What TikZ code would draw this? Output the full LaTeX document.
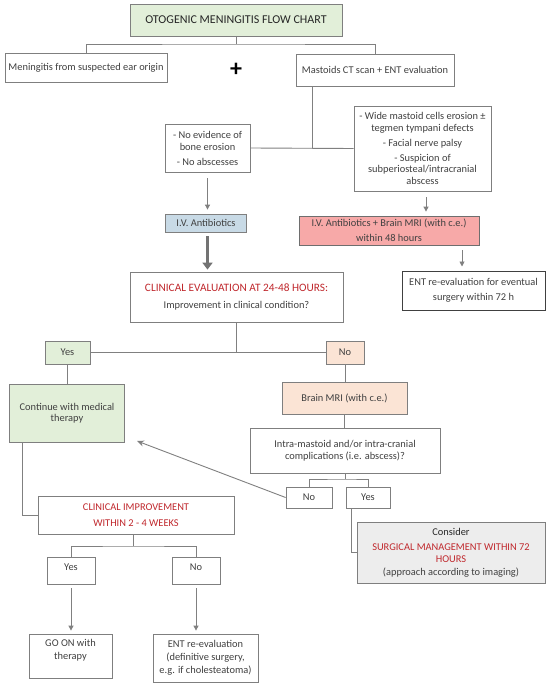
\documentclass[tikz,border=0pt]{standalone}
\usepackage{fontspec}
\setmainfont{Carlito}
\usetikzlibrary{arrows.meta}
\definecolor{txt}{HTML}{404040}
\definecolor{redt}{HTML}{C0282D}
\definecolor{bordergray}{HTML}{7F7F7F}
\definecolor{linegray}{HTML}{808080}
\definecolor{darkborder}{HTML}{404040}
\definecolor{pinkborder}{HTML}{6E6E6E}
\definecolor{lgreen}{HTML}{E2EFD9}
\definecolor{peach}{HTML}{FBE4D5}
\definecolor{ivblue}{HTML}{C8DAE6}
\definecolor{pinkfill}{HTML}{F7A9A8}
\definecolor{cgray}{HTML}{EDEDED}
\newcommand\bodyfs[1]{\fontsize{10.4}{#1}\selectfont}
\newcommand\redtx{\color{redt}}
\begin{document}
\begin{tikzpicture}[x=1pt,y=-1pt,
  bx/.style={draw=bordergray, line width=0.8pt, text=txt, align=center, inner sep=2pt, font=\bodyfs{12}},
  ln/.style={draw=linegray, line width=0.9pt},
  arr/.style={ln, -{Triangle[width=5pt,length=5pt]}},
  bigarr/.style={draw=linegray!90!black, line width=3.6pt, -{Triangle[width=10pt,length=7pt]}},
  backarr/.style={ln, -{Stealth[width=6pt,length=7pt]}}
]
\useasboundingbox (0,0) rectangle (550,687);
\fill[white] (0,0) rectangle (550,687);

% nodes
\node[bx, fill=lgreen, text=black!85, minimum width=212pt, minimum height=32pt, font=\fontsize{12}{14}\selectfont] (title) at (236,20) {OTOGENIC MENINGITIS FLOW CHART};
\node[bx, minimum width=162pt, minimum height=29pt] (menin) at (86,67.5) {Meningitis from suspected ear origin};
\node[text=black, inner sep=0pt, font=\fontsize{24}{24}\selectfont\bfseries] (plus) at (236,70) {+};
\node[bx, minimum width=158pt, minimum height=32pt] (mast) at (375,70) {Mastoids CT scan + ENT evaluation};
\node[bx, minimum width=85pt, minimum height=48pt] (noev) at (207.5,148) {- No evidence of\\ bone erosion\\[3pt] - No abscesses};
\node[bx, minimum width=137pt, minimum height=85pt, font=\bodyfs{11.5}] (wide) at (422.5,148.5) {- Wide mastoid cells erosion ±\\ tegmen tympani defects\\[3.5pt] - Facial nerve palsy\\[3.5pt] - Suspicion of\\ subperiosteal/intracranial\\ abscess};
\node[bx, fill=ivblue, minimum width=81pt, minimum height=18pt] (iv) at (206,223) {I.V. Antibiotics};
\node[bx, fill=pinkfill, draw=pinkborder, minimum width=180pt, minimum height=29pt, font=\bodyfs{15}] (pink) at (389,230.5) {I.V. Antibiotics + Brain MRI (with c.e.)\\ within 48 hours};
\node[bx, draw=darkborder, line width=1pt, minimum width=143pt, minimum height=39pt, font=\bodyfs{15}] (ent) at (473.5,290.5) {ENT re-evaluation for eventual\\ surgery within 72 h};
\node[bx, minimum width=213pt, minimum height=50pt, font=\bodyfs{17}] (clin) at (236.5,297) {{\redtx\fontsize{11.3}{17}\selectfont CLINICAL EVALUATION AT 24-48 HOURS:}\\ Improvement in clinical condition?};
\node[bx, fill=lgreen, minimum width=45pt, minimum height=23pt] (yes1) at (67.5,352.5) {Yes};
\node[bx, fill=peach, minimum width=38pt, minimum height=23pt] (no1) at (345,352.5) {No};
\node[bx, fill=lgreen, minimum width=115pt, minimum height=58pt, font=\bodyfs{11.5}] (cont) at (67,413) {Continue with medical\\ therapy};
\node[bx, fill=peach, minimum width=125pt, minimum height=32pt] (bmri) at (344.5,398) {Brain MRI (with c.e.)};
\node[bx, minimum width=190pt, minimum height=45pt] (intra) at (345,450.5) {Intra-mastoid and/or intra-cranial\\ complications (i.e. abscess)?};
\node[bx, minimum width=46pt, minimum height=21pt] (no2) at (309,497.5) {No};
\node[bx, minimum width=44pt, minimum height=21pt] (yes2) at (368,497.5) {Yes};
\node[bx, minimum width=196pt, minimum height=38pt, font=\bodyfs{16}] (ci) at (136,515) {\redtx CLINICAL IMPROVEMENT\\ \redtx WITHIN 2 - 4 WEEKS};
\node[bx, fill=cgray, minimum width=188pt, minimum height=61pt, font=\bodyfs{11.5}] (cons) at (451,552.5) {{\color{black!85}Consider}\\[4pt] \redtx SURGICAL MANAGEMENT WITHIN 72\\ \redtx HOURS\\[1.5pt] (approach according to imaging)};
\node[bx, minimum width=48pt, minimum height=27pt, font=\bodyfs{7}] (yes3) at (71,570.5) {Yes\\ \mbox{}};
\node[bx, minimum width=48pt, minimum height=27pt, font=\bodyfs{7}] (no3) at (196,570.5) {No\\ \mbox{}};
\node[bx, minimum width=83pt, minimum height=44pt, font=\bodyfs{13}] (goon) at (70.5,656) {GO ON with\\ therapy\\ \mbox{}};
\node[bx, minimum width=105pt, minimum height=48pt, font=\bodyfs{13}] (ent2) at (205.5,658) {ENT re-evaluation\\ (definitive surgery,\\ e.g. if cholesteatoma)};

% helper coordinates
\coordinate (br1) at (236,44);
\coordinate (m1) at (312,148);
\coordinate (wa) at (426,0);
\coordinate (ea) at (462,0);
\coordinate (c1) at (236.5,352.5);
\coordinate (i1) at (345,479);
\coordinate (ctip) at (137,441);
\coordinate (k1) at (22,515);
\coordinate (q1) at (133,546);
\coordinate (y1) at (351,0);

% connectors
\draw[ln] (title.south) -- (br1);
\draw[ln] (menin.north) |- (br1) -| (mast.north);
\draw[ln] (mast.south -| m1) -- (m1);
\draw[ln] (noev.east) -- (wide.west);
\draw[arr, shorten <=6pt, shorten >=4pt] (noev.south) -- (noev.south |- iv.north);
\draw[bigarr, shorten <=4pt, shorten >=2pt] (noev.south |- iv.south) -- (noev.south |- clin.north);
\draw[arr, shorten <=6pt, shorten >=4pt] (wide.south -| wa) -- (wa |- pink.north);
\draw[arr, shorten <=5pt, shorten >=4pt] (pink.south -| ea) -- (ea |- ent.north);
\draw[ln] (clin.south) -- (c1);
\draw[ln] (yes1.east) -- (no1.west);
\draw[ln] (yes1.south) -- (yes1.south |- cont.north);
\draw[ln] (no1.south) -- (no1.south |- bmri.north);
\draw[ln] (bmri.south) -- (bmri.south |- intra.north);
\draw[ln] (intra.south) -- (i1);
\draw[ln] (no2.north) |- (i1) -| (yes2.north);
\draw[backarr] (no2.west) -- (ctip);
\draw[ln] (cont.south -| k1) -- (k1) -- (ci.west);
\draw[ln] (ci.south -| q1) -- (q1);
\draw[ln] (yes3.north) |- (q1) -| (no3.north);
\draw[arr, shorten <=4pt, shorten >=3pt] (yes3.south) -- (yes3.south |- goon.north);
\draw[arr, shorten <=4pt, shorten >=3pt] (no3.south) -- (no3.south |- ent2.north);
\draw[ln] (yes2.south -| y1) |- (cons.west);
\end{tikzpicture}
\end{document}
